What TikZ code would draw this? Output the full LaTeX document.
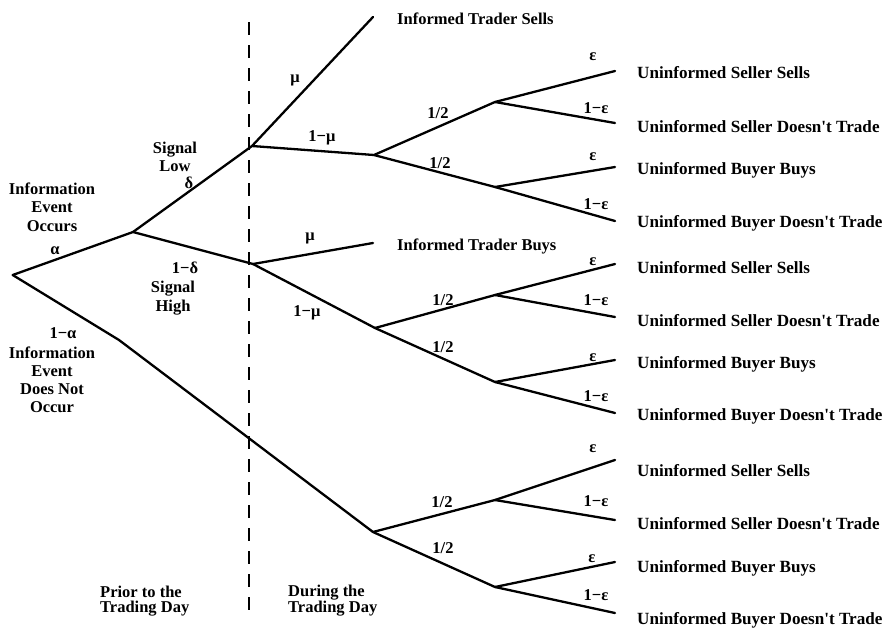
\documentclass[tikz,border=0pt]{standalone}
\usepackage{fontspec}
\setmainfont{Liberation Serif}[Ligatures=TeXOff]
\begin{document}
\begin{tikzpicture}[x=1pt,y=-1pt,
  branch/.style={line width=2.3pt,line cap=round,line join=round},
  divider/.style={line width=2.3pt,dash pattern=on 13pt off 10pt},
  txt/.style={font=\bfseries\fontsize{16.5}{18.5}\selectfont,inner sep=0pt,align=center},
  outcome/.style={txt,anchor=base west,align=left},
  leaf/.style={outcome,font=\bfseries\fontsize{17.1}{19}\selectfont},
  prob/.style={txt}]
\useasboundingbox (0,0) rectangle (887,630);

% trading-day divider
\coordinate (dtop) at (249,22);
\coordinate (dbot) at (249,610);
\draw[divider] (dtop) -- (dbot);

% decision points
\coordinate (root)  at (12.7,275);
\coordinate (info)  at (133,232);
\coordinate (bend)  at (119,340);
\coordinate (low)   at (252,146);
\coordinate (high)  at (253,264);
\coordinate (its)   at (373,17);
\coordinate (lowU)  at (374,155);
\coordinate (itb)   at (373,243);
\coordinate (highU) at (375,328);
\coordinate (noU)   at (373,532);

\coordinate (a1) at (495,102); \coordinate (a2) at (495,187);
\coordinate (b1) at (495,295); \coordinate (b2) at (495,382);
\coordinate (c1) at (495,500); \coordinate (c2) at (495,587);

\coordinate (a1u) at (615,71);  \coordinate (a1d) at (615,123);
\coordinate (a2u) at (615,167); \coordinate (a2d) at (615,221);
\coordinate (b1u) at (615,264); \coordinate (b1d) at (615,317);
\coordinate (b2u) at (615,360); \coordinate (b2d) at (615,413);
\coordinate (c1u) at (615,460); \coordinate (c1d) at (615,520);
\coordinate (c2u) at (615,562); \coordinate (c2d) at (615,613);

% branches before the trading day
\draw[branch] (root) -- (info);
\draw[branch] (root) -- (bend) -- (noU);
\draw[branch] (info) -- (low);
\draw[branch] (info) -- (high);

% branches during the trading day
\draw[branch] (low) -- (its);
\draw[branch] (low) -- (lowU);
\draw[branch] (high) -- (itb);
\draw[branch] (high) -- (highU);

\draw[branch] (lowU) -- (a1);  \draw[branch] (lowU) -- (a2);
\draw[branch] (highU) -- (b1); \draw[branch] (highU) -- (b2);
\draw[branch] (noU) -- (c1);   \draw[branch] (noU) -- (c2);

\draw[branch] (a1) -- (a1u); \draw[branch] (a1) -- (a1d);
\draw[branch] (a2) -- (a2u); \draw[branch] (a2) -- (a2d);
\draw[branch] (b1) -- (b1u); \draw[branch] (b1) -- (b1d);
\draw[branch] (b2) -- (b2u); \draw[branch] (b2) -- (b2d);
\draw[branch] (c1) -- (c1u); \draw[branch] (c1) -- (c1d);
\draw[branch] (c2) -- (c2u); \draw[branch] (c2) -- (c2d);

% event labels
\node[txt] (occ)   at (52,207) {Information\\Event\\Occurs};
\node[txt] (alpha) at (55,251) {α};
\node[txt] (slow)  at (175,157) {Signal\\Low};
\node[txt] (delta) at (189,183) {δ};
\node[txt] (omd)   at (185,268) {1−δ};
\node[txt] (shigh) at (173,298) {Signal\\High};
\node[txt] (oma)   at (63,333) {1−α};
\node[txt,font=\bfseries\fontsize{16.5}{18}\selectfont] (noocc) at (52,380) {Information\\Event\\Does Not\\Occur};

% trade probabilities
\node[prob] (mu1)  at (295,80)  {μ};
\node[prob] (omu1) at (322,138) {1−μ};
\node[prob] (mu2)  at (310,238) {μ};
\node[prob] (omu2) at (307,313) {1−μ};

\node[prob] (ha1) at (438,113) {1/2};
\node[prob] (ha2) at (440,163) {1/2};
\node[prob] (hb1) at (443,300) {1/2};
\node[prob] (hb2) at (443,347) {1/2};
\node[prob] (hc1) at (442,502) {1/2};
\node[prob] (hc2) at (443,548) {1/2};

\node[prob] (ea1) at (593,57)  {ε};
\node[prob] (ea2) at (596,108) {1−ε};
\node[prob] (ea3) at (593,157) {ε};
\node[prob] (ea4) at (596,204) {1−ε};
\node[prob] (eb1) at (593,262) {ε};
\node[prob] (eb2) at (596,300) {1−ε};
\node[prob] (eb3) at (593,358) {ε};
\node[prob] (eb4) at (596,396) {1−ε};
\node[prob] (ec1) at (593,449) {ε};
\node[prob] (ec2) at (596,501) {1−ε};
\node[prob] (ec3) at (592,559) {ε};
\node[prob] (ec4) at (596,595) {1−ε};

% outcomes
\node[outcome] (tsell) at (397,24)  {Informed Trader Sells};
\node[outcome] (tbuy)  at (397,250) {Informed Trader Buys};

\node[leaf] (la1) at (637,78)  {Uninformed Seller Sells};
\node[leaf] (la2) at (637,132) {Uninformed Seller Doesn't Trade};
\node[leaf] (la3) at (637,174) {Uninformed Buyer Buys};
\node[leaf] (la4) at (637,227) {Uninformed Buyer Doesn't Trade};
\node[leaf] (lb1) at (637,273) {Uninformed Seller Sells};
\node[leaf] (lb2) at (637,326) {Uninformed Seller Doesn't Trade};
\node[leaf] (lb3) at (637,368) {Uninformed Buyer Buys};
\node[leaf] (lb4) at (637,420) {Uninformed Buyer Doesn't Trade};
\node[leaf] (lc1) at (637,476) {Uninformed Seller Sells};
\node[leaf] (lc2) at (637,529) {Uninformed Seller Doesn't Trade};
\node[leaf] (lc3) at (637,572) {Uninformed Buyer Buys};
\node[leaf] (lc4) at (637,624) {Uninformed Buyer Doesn't Trade};

% phases
\node[txt,anchor=west,align=left,font=\bfseries\fontsize{16.5}{15}\selectfont] (prior) at (100,601) {Prior to the\\Trading Day};
\node[txt,anchor=west,align=left,font=\bfseries\fontsize{16.5}{15}\selectfont] (during) at (288,601) {During the\\Trading Day};
\end{tikzpicture}
\end{document}
